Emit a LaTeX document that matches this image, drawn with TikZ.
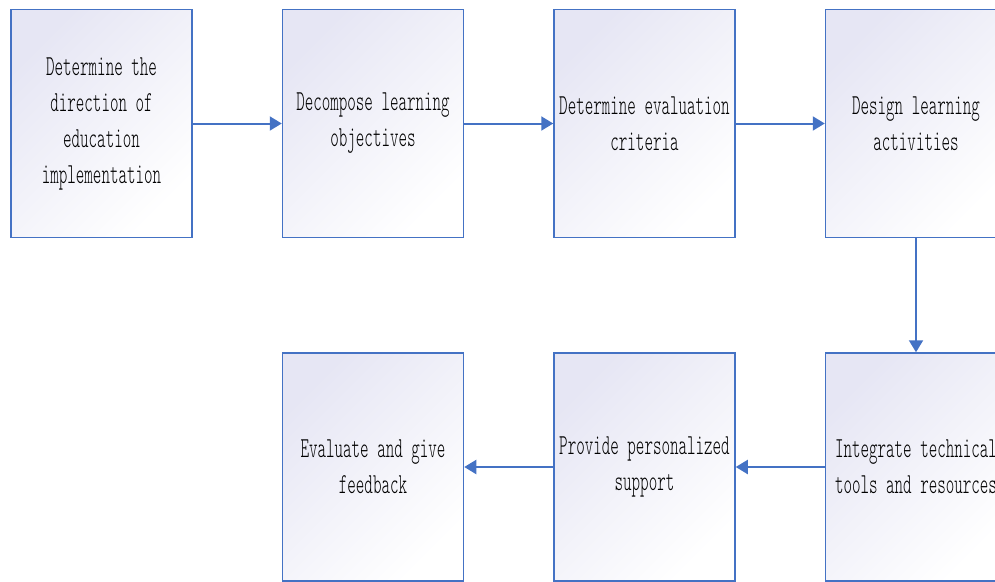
\documentclass[tikz,border=0pt]{standalone}
\usepackage{fontspec}
\setmainfont[FakeStretch=0.56]{Latin Modern Mono Light}
\definecolor{boxblue}{RGB}{68, 114, 196}
\definecolor{boxtint}{RGB}{230, 230, 244}
\usetikzlibrary{arrows.meta, positioning}

\begin{document}
\begin{tikzpicture}[
          node distance=114pt and 89pt,
          stepbox/.style={draw=boxblue, line width=1.5pt,
                          top color=boxtint, bottom color=white, shading angle=45,
                          minimum width=181pt, minimum height=228pt,
                          inner sep=0pt, align=center,
                          font=\fontsize{29pt}{36pt}\selectfont},
          arr/.style={-{Triangle[length=12pt,width=14pt]}, line width=2pt, color=boxblue}
        ]
        \useasboundingbox (0,0) rectangle (995pt,-581pt);
        \node[stepbox] (dir) at (101.5pt,-123.5pt) {Determine the\\direction of\\education\\implementation};
        \node[stepbox] (obj) [right=of dir] {Decompose learning\\objectives};
        \node[stepbox] (crit) [right=of obj] {Determine evaluation\\criteria};
        \node[stepbox] (act) [right=of crit] {Design learning\\activities};
        \node[stepbox] (tool) [below=of act] {Integrate technical\\tools and resources};
        \node[stepbox] (supp) [left=of tool] {Provide personalized\\support};
        \node[stepbox] (feed) [left=of supp] {Evaluate and give\\feedback};
        \draw[arr] (dir)--(obj);
        \draw[arr] (obj)--(crit);
        \draw[arr] (crit)--(act);
        \draw[arr] (act)--(tool);
        \draw[arr] (tool)--(supp);
        \draw[arr] (supp)--(feed);
      \end{tikzpicture}
\end{document}
